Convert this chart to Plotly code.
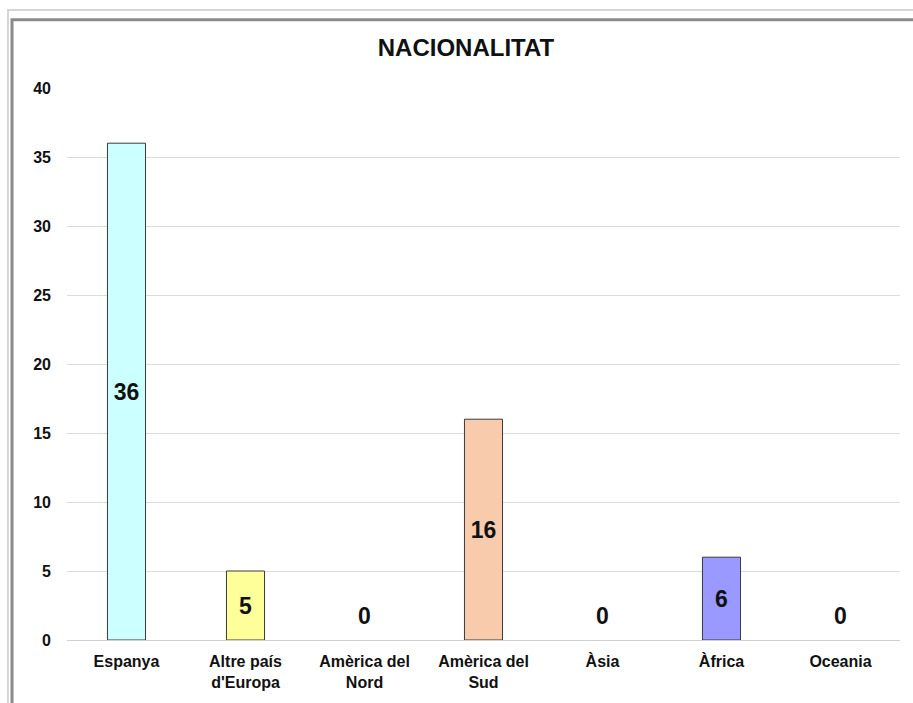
import plotly.graph_objects as go

# chart data
categories = ["Espanya", "Altre país<br>d'Europa", "Amèrica del<br>Nord", "Amèrica del<br>Sud",
              "Àsia", "Àfrica", "Oceania"]
values = [36, 5, 0, 16, 0, 6, 0]
bar_colors = ["#CCFFFF", "#FFFF99", "#FFFFFF", "#F8CBAD", "#FFFFFF", "#9999FF", "#FFFFFF"]
y_ticks = [0, 5, 10, 15, 20, 25, 30, 35, 40]

W, H = 913, 703
L, R, T, B = 67, 13, 88, 56
pw, ph = W - L - R, H - T - B


def px_x(x):
    return (x - L) / pw


def px_y(y):
    return (H - B - y) / ph


font_main = "Liberation Sans, Arial, sans-serif"

fig = go.Figure()
fig.add_trace(go.Bar(
    x=categories,
    y=values,
    marker=dict(color=bar_colors,
                line=dict(color="#3a3a3a", width=[1 if v > 0 else 0 for v in values])),
    text=[str(v) if v > 0 else "" for v in values],
    textposition="inside",
    insidetextanchor="middle",
    textangle=0,
    textfont=dict(family=font_main, size=23, color="#111111", weight="bold"),
    hoverinfo="x+y",
))

# zero values are written above the baseline
for c, v in zip(categories, values):
    if v == 0:
        fig.add_annotation(x=c, y=v, text="<b>0</b>", showarrow=False, yanchor="bottom",
                           yshift=9, font=dict(family=font_main, size=23, color="#111111"))

# picture frame around the chart
fig.add_shape(type="rect", xref="paper", yref="paper",
              x0=px_x(8), x1=px_x(990), y0=px_y(9), y1=px_y(780),
              line=dict(color="#d6d6d6", width=2), layer="below")
fig.add_shape(type="rect", xref="paper", yref="paper",
              x0=px_x(12), x1=px_x(990), y0=px_y(19), y1=px_y(780),
              line=dict(color="#8a8a8a", width=3), layer="below")

fig.update_layout(
    width=W, height=H,
    margin=dict(l=L, r=R, t=T, b=B),
    paper_bgcolor="white",
    plot_bgcolor="white",
    showlegend=False,
    bargap=0.68,
    title=dict(text="<b>NACIONALITAT</b>", x=466 / W, xanchor="center",
               y=1 - 48 / H, yanchor="middle", yref="container",
               font=dict(family=font_main, size=24, color="#111111")),
    xaxis=dict(
        showline=False, showgrid=False, ticks="",
        ticklabelstandoff=10,
        tickfont=dict(family=font_main, size=16, color="#111111", weight="bold"),
    ),
    yaxis=dict(
        range=[0, 40], tickvals=y_ticks, showgrid=True, gridcolor="#dcdcdc", gridwidth=1,
        zeroline=True, zerolinecolor="#d0d0d0", zerolinewidth=1, showline=False, ticks="",
        ticklabelstandoff=15,
        tickfont=dict(family=font_main, size=16, color="#111111", weight="bold"),
    ),
)

# drop the default page margin so the figure fills the window exactly
fig.write_html("out.html", config={"displayModeBar": False},
               post_script="document.body.style.margin='0';document.body.style.overflow='hidden';")
